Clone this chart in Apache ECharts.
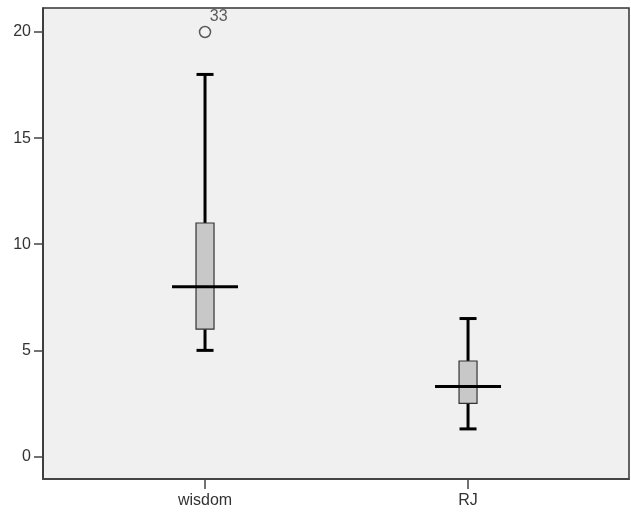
<!DOCTYPE html>
<html>
<head>
<meta charset="utf-8">
<script src="https://cdn.jsdelivr.net/npm/echarts@6/dist/echarts.min.js"></script>
<style>
  html, body { margin: 0; padding: 0; background: #fff; }
  #main { width: 631px; height: 517px; }
</style>
</head>
<body>
<div id="main"></div>
<script>
// data
var categories = ['wisdom', 'RJ'];
var whiskerLow = [5, 1.3];
var boxLow = [6, 2.5];
var medians = [8, 3.3];
var boxHigh = [11, 4.5];
var whiskerHigh = [18, 6.5];
var outliers = [[0, 20, '33']]; // [category index, value, case label]
var yTicks = [0, 5, 10, 15, 20];

var boxData = categories.map(function (c, i) {
  return [i, whiskerLow[i], boxLow[i], medians[i], boxHigh[i], whiskerHigh[i]];
});

var chart = echarts.init(document.getElementById('main'));

function renderBox(params, api) {
  var x = api.value(0);
  var pLow = api.coord([x, api.value(1)]);
  var pQ1 = api.coord([x, api.value(2)]);
  var pMed = api.coord([x, api.value(3)]);
  var pQ3 = api.coord([x, api.value(4)]);
  var pHigh = api.coord([x, api.value(5)]);
  var cx = pMed[0];
  var lineStyle = { stroke: '#000', lineWidth: 3 };
  return {
    type: 'group',
    children: [
      { type: 'line', shape: { x1: cx, y1: pHigh[1], x2: cx, y2: pQ3[1] }, style: lineStyle },
      { type: 'line', shape: { x1: cx, y1: pQ1[1], x2: cx, y2: pLow[1] }, style: lineStyle },
      { type: 'line', shape: { x1: cx - 8.5, y1: pHigh[1], x2: cx + 8.5, y2: pHigh[1] }, style: lineStyle },
      { type: 'line', shape: { x1: cx - 8.5, y1: pLow[1], x2: cx + 8.5, y2: pLow[1] }, style: lineStyle },
      { type: 'rect', shape: { x: cx - 9, y: pQ3[1], width: 18, height: pQ1[1] - pQ3[1] },
        style: { fill: '#c8c8c8', stroke: '#333', lineWidth: 1.2 } },
      { type: 'line', shape: { x1: cx - 33, y1: pMed[1], x2: cx + 33, y2: pMed[1] }, style: lineStyle }
    ]
  };
}

var option = {
  backgroundColor: '#fff',
  animation: false,
  grid: {
    left: 43, top: 8, right: 2, bottom: 38,
    show: true,
    backgroundColor: '#f0f0f0',
    borderColor: '#333',
    borderWidth: 1.5
  },
  xAxis: {
    type: 'value',
    min: -0.616,
    max: 1.612,
    splitLine: { show: false },
    axisLine: { show: true, onZero: false, lineStyle: { color: '#444', width: 2 } },
    axisTick: { show: true, customValues: [0, 1], length: 10, lineStyle: { color: '#444', width: 1.5 } },
    axisLabel: {
      customValues: [0, 1],
      margin: 14,
      color: '#333',
      fontFamily: 'Liberation Sans',
      fontSize: 16,
      formatter: function (v) { return categories[Math.round(v)]; }
    }
  },
  yAxis: {
    type: 'value',
    min: -1.06,
    max: 21.13,
    splitLine: { show: false },
    axisLine: { show: true, onZero: false, lineStyle: { color: '#333', width: 1.5 } },
    axisTick: { show: true, customValues: yTicks, length: 9, lineStyle: { color: '#444', width: 1.5 } },
    axisLabel: {
      customValues: yTicks,
      margin: 12,
      color: '#333',
      fontFamily: 'Liberation Sans',
      fontSize: 16
    }
  },
  series: [
    {
      type: 'custom',
      renderItem: renderBox,
      encode: { x: 0, y: [1, 2, 3, 4, 5] },
      data: boxData,
      z: 2
    },
    {
      type: 'scatter',
      symbol: 'circle',
      symbolSize: 11,
      itemStyle: { color: '#f4f4f4', borderColor: '#333', borderWidth: 1.5 },
      label: {
        show: true,
        position: [11, -17],
        color: '#333',
        fontFamily: 'Liberation Sans',
        fontSize: 16,
        formatter: function (p) { return p.data[2]; }
      },
      data: outliers,
      z: 3
    }
  ]
};

chart.setOption(option);
</script>
</body>
</html>
